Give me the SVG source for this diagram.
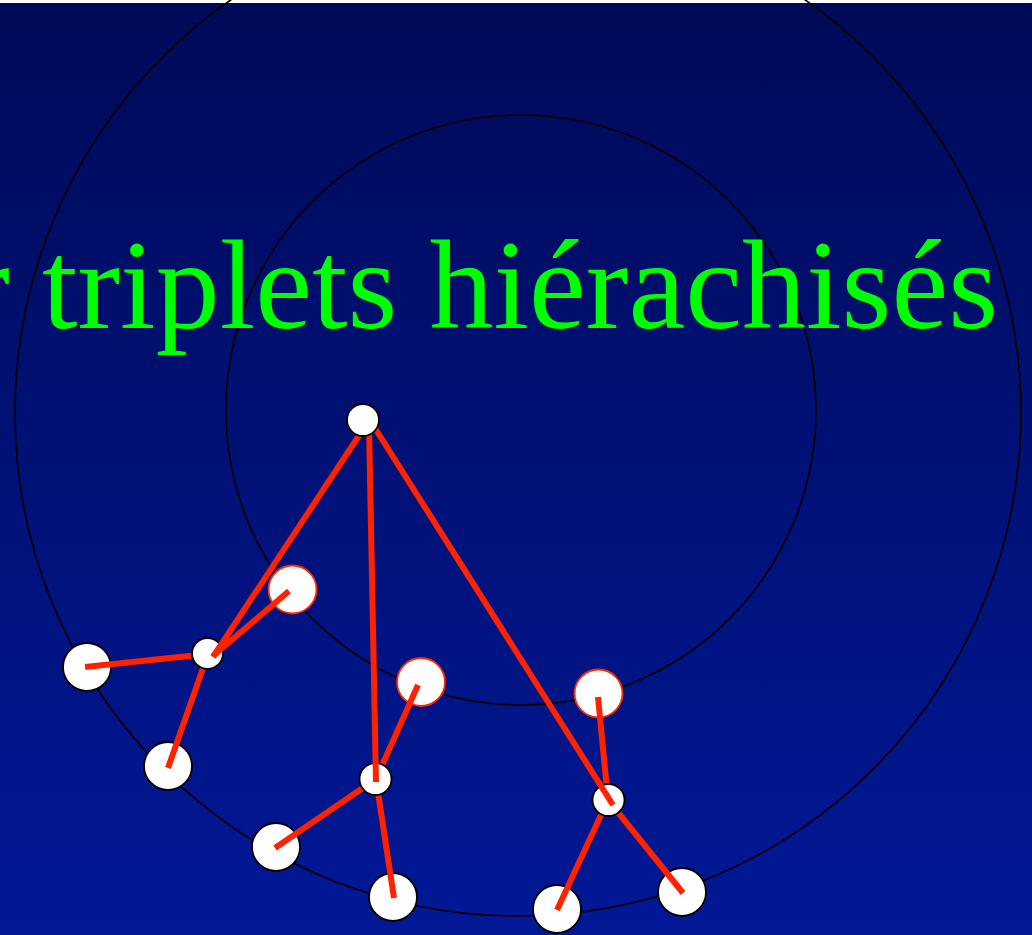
<svg xmlns="http://www.w3.org/2000/svg" width="1032" height="935" viewBox="0 0 1032 935">
<defs>
<linearGradient id="bg" x1="0" y1="0" x2="0" y2="1">
<stop offset="0" stop-color="#000a58"/>
<stop offset="1" stop-color="#021896"/>
</linearGradient>
<style>
.ring{fill:none;stroke:#000;stroke-width:1.6}
.leaf{fill:#fff;stroke:#000;stroke-width:1.8}
.red{fill:#fff;stroke:#ff2a00;stroke-width:1.8}
.sub{fill:#fff;stroke:#000;stroke-width:1.8}
.edge{stroke:#ff2200;stroke-width:6;stroke-linecap:butt;fill:none}
.title{font-family:"Liberation Serif","Times New Roman",serif;font-size:128px;fill:#00ff00}
</style>
</defs>
<rect x="0" y="0" width="1032" height="935" fill="#fff"/>
<rect x="0" y="3" width="1032" height="932" fill="url(#bg)"/>
<g id="rings">
<circle class="ring" cx="518" cy="413" r="503"/>
<circle class="ring" cx="521" cy="410" r="295"/>
</g>
<text class="title" x="998" y="328" text-anchor="end">r triplets hiérachisés</text>
<g id="group-left">
<circle id="leaf1" class="leaf" cx="87" cy="667" r="24"/>
<circle id="leaf2" class="leaf" cx="168" cy="766" r="24"/>
<circle id="red1" class="red" cx="292.5" cy="589.5" r="24"/>
</g>
<g id="group-mid">
<circle id="red2" class="red" cx="421" cy="682" r="24"/>
<circle id="leaf3" class="leaf" cx="276" cy="847" r="24"/>
<circle id="leaf4" class="leaf" cx="393" cy="897" r="24"/>
</g>
<g id="group-right">
<circle id="red3" class="red" cx="598.5" cy="693.5" r="24"/>
<circle id="leaf5" class="leaf" cx="557" cy="909" r="24"/>
<circle id="leaf6" class="leaf" cx="682" cy="892" r="24"/>
</g>
<g id="connectors-lower">
<line class="edge" x1="208" y1="654" x2="85" y2="667"/>
<line class="edge" x1="208" y1="654" x2="168" y2="768"/>
<line class="edge" x1="376" y1="779" x2="418" y2="685"/>
<line class="edge" x1="376" y1="779" x2="275" y2="848"/>
<line class="edge" x1="376" y1="779" x2="394" y2="898"/>
<line class="edge" x1="608" y1="800" x2="598" y2="697"/>
<line class="edge" x1="608" y1="800" x2="557" y2="910"/>
<line class="edge" x1="608" y1="800" x2="683" y2="893"/>
</g>
<g id="sub-nodes">
<circle id="sub1" class="sub" cx="207.5" cy="653.5" r="15.5"/>
<circle id="sub2" class="sub" cx="375.5" cy="779" r="16"/>
<circle id="sub3" class="sub" cx="608.5" cy="800" r="16"/>
</g>
<g id="connectors-upper">
<line class="edge" x1="213" y1="656" x2="289" y2="591"/>
<line class="edge" x1="366" y1="425" x2="213" y2="657"/>
<line class="edge" x1="369" y1="425" x2="376" y2="782"/>
<line class="edge" x1="373" y1="425" x2="613" y2="805"/>
</g>
<g id="root">
<circle class="sub" cx="363" cy="420" r="16"/>
</g>
</svg>
